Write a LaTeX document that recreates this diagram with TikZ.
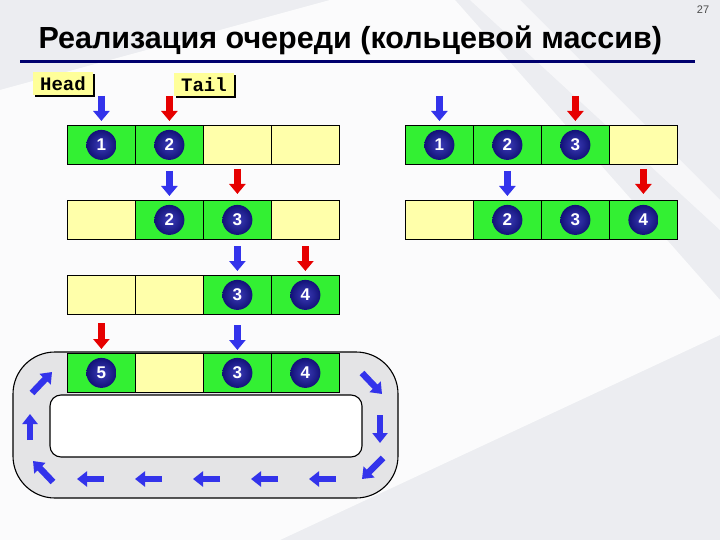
\documentclass[tikz,border=0pt]{standalone}
\usepackage{fontspec}
\setmainfont{Liberation Sans}
\setmonofont{Liberation Mono}
\usetikzlibrary{arrows.meta,positioning,shadows}
\definecolor{queueGreen}{RGB}{51,240,51}
\definecolor{queueYellow}{RGB}{255,255,170}
\definecolor{queueNavy}{RGB}{18,18,120}
\definecolor{queueNavyLight}{RGB}{60,60,185}
\definecolor{queueBlue}{RGB}{51,51,235}
\definecolor{queueRed}{RGB}{230,0,0}
\definecolor{ringGray}{RGB}{228,228,230}
\definecolor{titleNavy}{RGB}{0,0,110}
\definecolor{labelYellow}{RGB}{255,255,153}
\definecolor{bgGray}{RGB}{236,237,241}

\tikzset{
  slot/.style={draw=black, line width=0.8pt, fill=queueGreen, minimum width=68pt, minimum height=39pt, inner sep=0pt, anchor=north west},
  freeslot/.style={slot, fill=queueYellow},
  elem/.style={circle, inner color=queueNavyLight, outer color=queueNavy, minimum size=30pt, inner sep=0pt, text=white, font=\bfseries\fontsize{17}{17}\selectfont},
  headptr/.style={draw=queueBlue, line width=7pt, -{Triangle[width=16pt,length=10pt]}},
  tailptr/.style={headptr, draw=queueRed},
  ringptr/.style={headptr, line width=6.5pt, -{Triangle[width=15pt,length=10pt]}},
  ptrlabel/.style={fill=labelYellow, minimum width=60pt, minimum height=23pt, inner sep=0pt, font=\ttfamily\bfseries\fontsize{19}{19}\selectfont, drop shadow={shadow xshift=2pt, shadow yshift=-2pt, fill=black, opacity=1}}
}
% one row of four slots: name, left x, top y, kinds
\newcommand\queuerow[4]{%
  \foreach \kind [count=\k] in {#4}
    \node[\kind] (#1c\k) at ({#2+68*(\k-1)},#3) {};
}

\begin{document}
\begin{tikzpicture}[x=1pt,y=-1pt]
% background
\fill[bgGray] (0,0) rectangle (720,540);
\fill[white, opacity=0.8] (0,90) -- (330,0) -- (455,0) -- (720,300) -- (720,335) -- (280,540) -- (0,540) -- cycle;
\fill[white, opacity=0.6] (470,0) -- (520,0) -- (720,200) -- (720,230) -- cycle;

% title
\node[anchor=west, font=\bfseries\fontsize{30.5}{30.5}\selectfont] (title) at (35,40) {Реализация очереди (кольцевой массив)};
\draw[titleNavy, line width=3pt] (20,62) -- (695,62);
\node[font=\fontsize{11}{11}\selectfont, text=black!70] (pageno) at (703,10) {27};

% labels
\node[ptrlabel] (head) at (63,83.5) {Head};
\node[ptrlabel] (tail) at (204,85) {Tail};

% ring
\draw[fill=ringGray, line width=1.1pt, rounded corners=42pt] (13,352) rectangle (398,498);
\draw[fill=white, line width=1.1pt, rounded corners=11pt] (50,395) rectangle (362,457);
\foreach \from/\to in {{(362,373)}/{(382,394)}, {(380,415)}/{(380,443)}, {(383,458)}/{(362,479)},
    {(336,479)}/{(309,479)}, {(278,479)}/{(251,479)}, {(220,479)}/{(193,479)},
    {(162,479)}/{(135,479)}, {(104,479)}/{(77,479)},
    {(53,482)}/{(33,461)}, {(30,440)}/{(30,414)}, {(32,393)}/{(52,372)}}
  \draw[ringptr] \from -- \to;

% left rows
\queuerow{a}{67}{125}{slot,slot,freeslot,freeslot}
\queuerow{b}{67}{200}{freeslot,slot,slot,freeslot}
\queuerow{c}{67}{275}{freeslot,freeslot,slot,slot}
\queuerow{d}{67}{353}{slot,freeslot,slot,slot}
% right rows
\queuerow{e}{405}{125}{slot,slot,slot,freeslot}
\queuerow{f}{405}{200}{freeslot,slot,slot,slot}

% elements
\node[elem] (ae1) at (ac1) {1};
\node[elem] (ae2) at (ac2) {2};
\node[elem] (be2) at (bc2) {2};
\node[elem] (be3) at (bc3) {3};
\node[elem] (ce3) at (cc3) {3};
\node[elem] (ce4) at (cc4) {4};
\node[elem] (de1) at (dc1) {5};
\node[elem] (de3) at (dc3) {3};
\node[elem] (de4) at (dc4) {4};
\node[elem] (ee1) at (ec1) {1};
\node[elem] (ee2) at (ec2) {2};
\node[elem] (ee3) at (ec3) {3};
\node[elem] (fe2) at (fc2) {2};
\node[elem] (fe3) at (fc3) {3};
\node[elem] (fe4) at (fc4) {4};

% head and tail pointers
\draw[headptr] ([yshift=29pt]ac1.north) -- ([yshift=4pt]ac1.north);
\draw[tailptr] ([yshift=29pt]ac2.north) -- ([yshift=4pt]ac2.north);
\draw[headptr] ([yshift=29pt]bc2.north) -- ([yshift=4pt]bc2.north);
\draw[tailptr] ([yshift=31pt]bc3.north) -- ([yshift=6pt]bc3.north);
\draw[headptr] ([yshift=29pt]cc3.north) -- ([yshift=4pt]cc3.north);
\draw[tailptr] ([yshift=29pt]cc4.north) -- ([yshift=4pt]cc4.north);
\draw[tailptr] ([yshift=30pt]dc1.north) -- ([yshift=4pt]dc1.north);
\draw[headptr] ([yshift=28pt]dc3.north) -- ([yshift=3pt]dc3.north);
\draw[headptr] ([yshift=29pt]ec1.north) -- ([yshift=4pt]ec1.north);
\draw[tailptr] ([yshift=29pt]ec3.north) -- ([yshift=4pt]ec3.north);
\draw[headptr] ([yshift=29pt]fc2.north) -- ([yshift=4pt]fc2.north);
\draw[tailptr] ([yshift=31pt]fc4.north) -- ([yshift=6pt]fc4.north);
\end{tikzpicture}
\end{document}
